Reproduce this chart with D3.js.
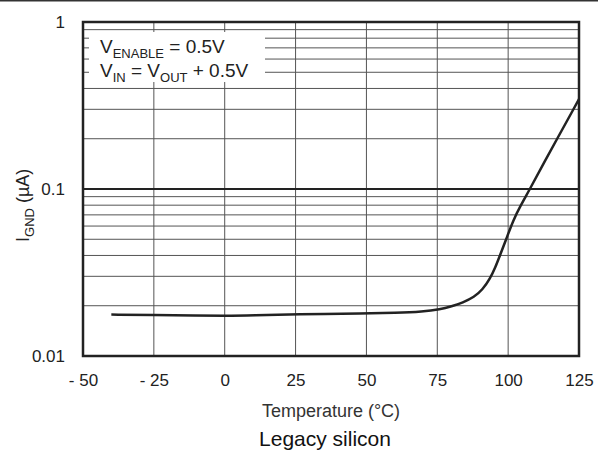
<!DOCTYPE html>
<html>
<head>
<meta charset="utf-8">
<script src="https://cdn.jsdelivr.net/npm/d3@7"></script>
<style>
  body { margin: 0; background: #fff; }
  svg { display: block; font-family: "Liberation Sans", Arial, sans-serif; }
</style>
</head>
<body>
<svg id="chart"></svg>
<script>
// data
const temps = [-40, -25, -10, 0, 10, 25, 50, 60, 70, 76, 80, 84, 88, 91, 93.6, 95.5, 97.1, 99.5, 101.8, 104.2, 107.7, 111.2, 125];
const iGnd = [0.0177, 0.0176, 0.0175, 0.0174, 0.0175, 0.0178, 0.0180, 0.0181, 0.0184, 0.0190, 0.0198, 0.0209, 0.0225, 0.0250, 0.0290, 0.0340, 0.0400, 0.0510, 0.0650, 0.0785, 0.100, 0.130, 0.345];
const xTicks = [-50, -25, 0, 25, 50, 75, 100, 125];
const xTickLabels = ["- 50", "- 25", "0", "25", "50", "75", "100", "125"];
const yTicks = [0.01, 0.1, 1];
const yTickLabels = ["0.01", "0.1", "1"];

const width = 598, height = 456;
const margin = { top: 22, right: 19, bottom: 100, left: 83 };
const innerW = width - margin.left - margin.right;
const innerH = height - margin.top - margin.bottom;

const svg = d3.select("#chart").attr("width", width).attr("height", height);

// rule across the top of the figure
svg.append("line")
  .attr("x1", 0).attr("x2", width).attr("y1", 0.75).attr("y2", 0.75)
  .attr("stroke", "#333").attr("stroke-width", 1.5);

const x = d3.scaleLinear().domain([-50, 125]).range([0, innerW]);
const y = d3.scaleLog().domain([0.01, 1]).range([innerH, 0]);

const g = svg.append("g").attr("transform", `translate(${margin.left},${margin.top})`);

// minor log grid
const minor = [];
[0.01, 0.1].forEach(d => { for (let k = 2; k <= 9; k++) minor.push(d * k); });
g.append("g").selectAll("line").data(minor).join("line")
  .attr("x1", 0).attr("x2", innerW)
  .attr("y1", d => y(d)).attr("y2", d => y(d))
  .attr("stroke", "#555").attr("stroke-width", 1);

// vertical grid
g.append("g").selectAll("line").data(xTicks.slice(1, -1)).join("line")
  .attr("x1", d => x(d)).attr("x2", d => x(d))
  .attr("y1", 0).attr("y2", innerH)
  .attr("stroke", "#555").attr("stroke-width", 1);

// decade line
g.append("line")
  .attr("x1", 0).attr("x2", innerW).attr("y1", y(0.1)).attr("y2", y(0.1))
  .attr("stroke", "#222").attr("stroke-width", 2);

// legend background hides the grid
g.append("rect")
  .attr("x", 6).attr("y", 10).attr("width", 176).attr("height", 50)
  .attr("fill", "#fff");

const leg = g.append("g").attr("font-size", 19).attr("fill", "#222");
const l1 = leg.append("text").attr("x", 17).attr("y", 31);
l1.append("tspan").text("V");
l1.append("tspan").attr("font-size", 13).attr("dy", 5).text("ENABLE");
l1.append("tspan").attr("dy", -5).text(" = 0.5V");
const l2 = leg.append("text").attr("x", 17).attr("y", 55);
l2.append("tspan").text("V");
l2.append("tspan").attr("font-size", 13).attr("dy", 5).text("IN");
l2.append("tspan").attr("dy", -5).text(" = V");
l2.append("tspan").attr("font-size", 13).attr("dy", 5).text("OUT");
l2.append("tspan").attr("dy", -5).text(" + 0.5V");

// curve
const line = d3.line()
  .x((d, i) => x(temps[i]))
  .y(d => y(d))
  .curve(d3.curveBasis);
g.append("path").datum(iGnd)
  .attr("d", line)
  .attr("fill", "none").attr("stroke", "#222").attr("stroke-width", 2.5);

// frame
g.append("rect")
  .attr("x", 0).attr("y", 0).attr("width", innerW).attr("height", innerH)
  .attr("fill", "none").attr("stroke", "#222").attr("stroke-width", 2.5);

// axes (labels only)
const xAxis = g.append("g").attr("transform", `translate(0,${innerH})`)
  .call(d3.axisBottom(x).tickValues(xTicks).tickSize(0).tickPadding(18)
    .tickFormat((d, i) => xTickLabels[i]));
const yAxis = g.append("g")
  .call(d3.axisLeft(y).tickValues(yTicks).tickSize(0).tickPadding(18)
    .tickFormat((d, i) => yTickLabels[i]));
[xAxis, yAxis].forEach(a => {
  a.select(".domain").remove();
  a.selectAll("text").attr("font-size", 17).attr("fill", "#222")
    .attr("font-family", "'Liberation Sans', Arial, sans-serif");
});

// axis titles
svg.append("text")
  .attr("x", margin.left + innerW / 2).attr("y", 417)
  .attr("text-anchor", "middle").attr("font-size", 18).attr("fill", "#333")
  .text("Temperature (°C)");

const yl = svg.append("text")
  .attr("transform", "translate(29,242) rotate(-90)")
  .attr("font-size", 18).attr("fill", "#222");
yl.append("tspan").text("I");
yl.append("tspan").attr("font-size", 13).attr("dy", 5).text("GND");
yl.append("tspan").attr("dy", -5).text(" (µA)");

// caption
svg.append("text")
  .attr("x", 325).attr("y", 446)
  .attr("text-anchor", "middle").attr("font-size", 21).attr("fill", "#111")
  .text("Legacy silicon");
</script>
</body>
</html>
